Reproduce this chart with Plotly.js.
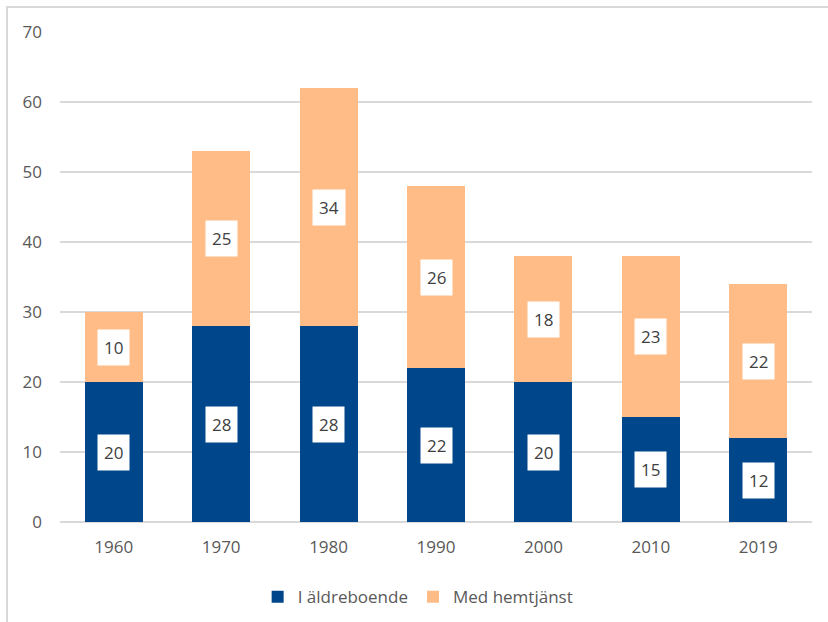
<!DOCTYPE html>
<html>
<head>
<meta charset="utf-8">
<script src="https://cdn.plot.ly/plotly-3.0.1.min.js"></script>
<style>
  html, body { margin: 0; padding: 0; background: #fff; }
  #wrap { position: relative; width: 828px; height: 622px; }
  #frame { position: absolute; left: 6px; top: 6px; right: 0; bottom: 0; border-left: 2px solid #d9d9d9; border-top: 2px solid #d9d9d9; pointer-events: none; }
  #chart { position: absolute; left: 0; top: 0; width: 828px; height: 622px; }
</style>
</head>
<body>
<div id="wrap">
  <div id="chart"></div>
  <div id="frame"></div>
</div>
<script>
const years = ['1960', '1970', '1980', '1990', '2000', '2010', '2019'];
const aldreboende = [20, 28, 28, 22, 20, 15, 12];
const hemtjanst = [10, 25, 34, 26, 18, 23, 22];
const seriesNames = ['I äldreboende', 'Med hemtjänst'];
const colors = ['#00468B', '#FFBC86'];

const font = "'Open Sans', 'Liberation Sans', sans-serif";

const traces = [
  { type: 'bar', name: seriesNames[0], x: years, y: aldreboende, marker: { color: colors[0] }, hoverinfo: 'skip' },
  { type: 'bar', name: seriesNames[1], x: years, y: hemtjanst, marker: { color: colors[1] }, hoverinfo: 'skip' }
];

const annotations = [];
years.forEach((yr, i) => {
  annotations.push({ x: i, y: aldreboende[i] / 2, text: String(aldreboende[i]), showarrow: false,
    bgcolor: '#ffffff', borderpad: 6, font: { size: 17, color: '#404040', family: font } });
  annotations.push({ x: i, y: aldreboende[i] + hemtjanst[i] / 2, text: String(hemtjanst[i]), showarrow: false,
    bgcolor: '#ffffff', borderpad: 6, font: { size: 17, color: '#404040', family: font } });
});

const layout = {
  width: 828, height: 622,
  margin: { l: 60, r: 16, t: 32, b: 100 },
  barmode: 'stack',
  bargap: 0.46,
  paper_bgcolor: '#ffffff', plot_bgcolor: '#ffffff',
  font: { family: font, color: '#595959', size: 16 },
  xaxis: { type: 'category', range: [-0.5, years.length - 0.5], showgrid: false, showline: false, zeroline: false, ticks: '', ticklabelstandoff: 13,
    tickfont: { size: 17, color: '#595959' } },
  yaxis: { range: [0, 70], dtick: 10, showgrid: true, gridcolor: '#d9d9d9', gridwidth: 1.5, zeroline: true,
    zerolinecolor: '#d9d9d9', zerolinewidth: 1.5, showline: false, ticks: '', ticklabelstandoff: 17,
    tickfont: { size: 17, color: '#595959' } },
  showlegend: true,
  legend: { orientation: 'h', xref: 'container', yref: 'container', x: 0.505, xanchor: 'center', y: 0.04, yanchor: 'middle',
    font: { size: 17, color: '#595959' }, traceorder: 'normal' },
  annotations: annotations
};

Plotly.newPlot('chart', traces, layout, { displayModeBar: false, staticPlot: true });
</script>
</body>
</html>
